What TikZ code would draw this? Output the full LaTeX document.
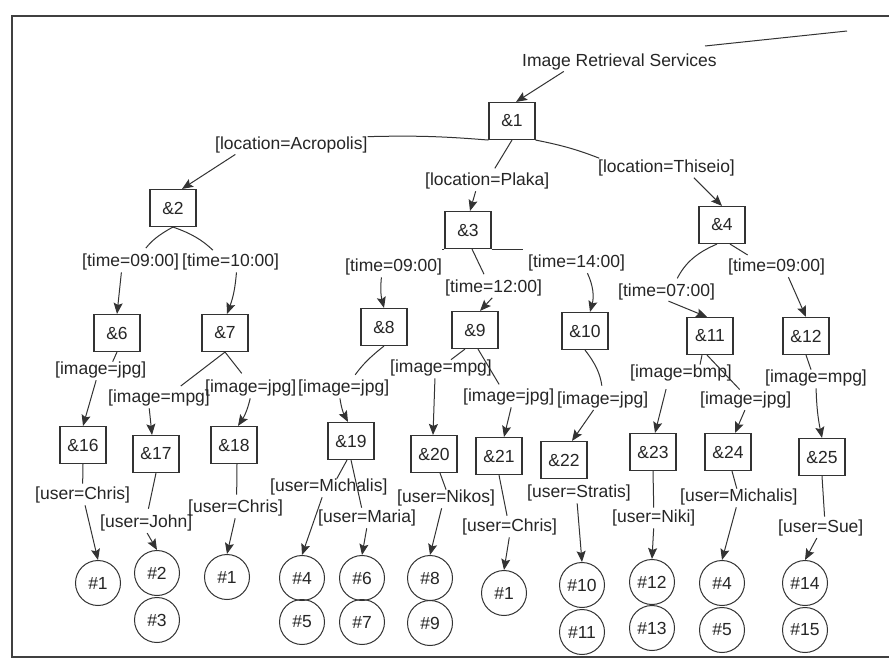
\documentclass[tikz,border=0pt]{standalone}
\usepackage{fontspec}
\setmainfont{Liberation Sans}
\usetikzlibrary{arrows.meta}
\begin{document}
\begin{tikzpicture}[x=1pt,y=-1pt,
  every node/.style={font=\fontsize{17.5}{21}\selectfont, text=black!85},
  box/.style={draw=black!80, line width=1.1pt, minimum width=46pt, minimum height=37pt, inner sep=0pt},
  leaf/.style={draw=black!80, line width=1pt, circle, minimum size=45pt, inner sep=0pt},
  lab/.style={inner sep=0pt, anchor=west},
  ln/.style={draw=black!80, line width=1pt},
  arr/.style={ln, shorten <=2pt, -{Stealth[length=11pt,width=9pt,inset=2pt]}},
]
\useasboundingbox (0,0) rectangle (889,659);
\fill[white] (0,0) rectangle (889,659);
\draw[line width=1.4pt, black!75] (889,16) -- (12,16) -- (12,657) -- (889,657);

% ---- top
\node[lab] (lIRS) at (522,62) {Image Retrieval Services};
\node[box] (n1) at (512,121) {\&1};
\node[lab] (lA) at (215,145) {[location=Acropolis]};
\node[lab] (lP) at (425,181) {[location=Plaka]};
\node[lab] (lT) at (598,168) {[location=Thiseio]};
\node[box] (n2) at (173,208) {\&2};
\node[box] (n3) at (468,230) {\&3};
\node[box] (n4) at (722,225) {\&4};

% ---- time labels
\node[lab] (tA1) at (82,262) {[time=09:00]};
\node[lab] (tA2) at (182,262) {[time=10:00]};
\node[lab] (tB1) at (345,267) {[time=09:00]};
\node[lab] (tB2) at (445,288) {[time=12:00]};
\node[lab] (tB3) at (528,263) {[time=14:00]};
\node[lab] (tC1) at (618,292) {[time=07:00]};
\node[lab] (tC2) at (728,267) {[time=09:00]};

% ---- second level boxes
\node[box] (n6) at (117,333) {\&6};
\node[box] (n7) at (225,333) {\&7};
\node[box] (n8) at (384,327) {\&8};
\node[box] (n9) at (475,330) {\&9};
\node[box] (n10) at (585,331) {\&10};
\node[box] (n11) at (710,336) {\&11};
\node[box] (n12) at (806,336) {\&12};

% ---- image labels
\node[lab] (i6) at (55,370) {[image=jpg]};
\node[lab] (i7a) at (108,398) {[image=mpg]};
\node[lab] (i7b) at (205,388) {[image=jpg]};
\node[lab] (i8) at (298,388) {[image=jpg]};
\node[lab] (i9a) at (390,368) {[image=mpg]};
\node[lab] (i9b) at (463,397) {[image=jpg]};
\node[lab] (i10) at (557,400) {[image=jpg]};
\node[lab] (i11a) at (630,373) {[image=bmp]};
\node[lab] (i11b) at (700,400) {[image=jpg]};
\node[lab] (i12) at (765,378) {[image=mpg]};

% ---- third level boxes
\node[box] (n16) at (83,445) {\&16};
\node[box] (n17) at (156,454) {\&17};
\node[box] (n18) at (234,445) {\&18};
\node[box] (n19) at (351,441) {\&19};
\node[box] (n20) at (434,454) {\&20};
\node[box] (n21) at (499,456) {\&21};
\node[box] (n22) at (564,460) {\&22};
\node[box] (n23) at (653,452) {\&23};
\node[box] (n24) at (728,452) {\&24};
\node[box] (n25) at (822,457) {\&25};

% ---- user labels
\node[lab] (u16) at (35,495) {[user=Chris]};
\node[lab] (u17) at (100,523) {[user=John]};
\node[lab] (u18) at (188,508) {[user=Chris]};
\node[lab] (u19a) at (270,487) {[user=Michalis]};
\node[lab] (u19b) at (318,518) {[user=Maria]};
\node[lab] (u20) at (397,498) {[user=Nikos]};
\node[lab] (u21) at (462,527) {[user=Chris]};
\node[lab] (u22) at (527,493) {[user=Stratis]};
\node[lab] (u23) at (612,518) {[user=Niki]};
\node[lab] (u24) at (680,497) {[user=Michalis]};
\node[lab] (u25) at (778,528) {[user=Sue]};

% ---- leaves
\node[leaf] (c16) at (98,583) {\#1};
\node[leaf] (c17a) at (157,573) {\#2};
\node[leaf] (c17b) at (157,620) {\#3};
\node[leaf] (c18) at (227,577) {\#1};
\node[leaf] (c19a) at (302,578) {\#4};
\node[leaf] (c19b) at (302,622) {\#5};
\node[leaf] (c19c) at (362,578) {\#6};
\node[leaf] (c19d) at (362,622) {\#7};
\node[leaf] (c20a) at (430,578) {\#8};
\node[leaf] (c20b) at (430,623) {\#9};
\node[leaf] (c21) at (504,593) {\#1};
\node[leaf] (c22a) at (582,585) {\#10};
\node[leaf] (c22b) at (582,632) {\#11};
\node[leaf] (c23a) at (652,582) {\#12};
\node[leaf] (c23b) at (652,628) {\#13};
\node[leaf] (c24a) at (722,583) {\#4};
\node[leaf] (c24b) at (722,630) {\#5};
\node[leaf] (c25a) at (805,583) {\#14};
\node[leaf] (c25b) at (805,630) {\#15};

% ---- connectors: top
\coordinate (in1) at (705,46);
\coordinate (in2) at (847,31);
\draw[ln] (in1) -- (in2);
\draw[arr] ([xshift=-54]lIRS.south) -- ([xshift=4]n1.north);
\draw[ln] (n1.south west) to[bend right=3] (lA.north east);
\draw[ln,shorten >=4pt] (n1.south east) to[bend left=5] ([xshift=5]lT.north west);
\draw[ln,shorten >=5pt] (n1.south) -- ([xshift=5]lP.north);
\draw[arr] ([xshift=22]lA.south west) -- ([xshift=9]n2.north);
\draw[arr] ([xshift=-11]lP.south) -- ([xshift=2]n3.north);
\draw[arr] ([xshift=26]lT.south) -- (n4.north);

% ---- &2
\draw[ln,shorten >=7pt] (n2.south) to[bend right=12] ([xshift=11]tA1.north);
\draw[ln,shorten >=5pt] (n2.south) to[bend left=12] ([xshift=-14]tA2.north);
\draw[arr] ([xshift=-9]tA1.south) -- (n6.north);
\draw[arr] ([xshift=6]tA2.south) to[bend left=8] ([xshift=2]n7.north);

% ---- &3
\draw[ln] (n3.south west) -- (tB1.north east |- n3.south);
\draw[ln] (n3.south east) -- ([xshift=-5]tB3.north west |- n3.south);
\draw[ln,shorten >=6pt] ([xshift=4]n3.south) -- ([xshift=-7]tB2.north);
\draw[arr] ([xshift=-12]tB1.south) to[bend right=10] (n8.north);
\draw[arr] (tB2.south) -- ([xshift=5]n9.north);
\draw[arr] ([xshift=10]tB3.south) to[bend left=20] ([xshift=5]n10.north);

% ---- &4
\draw[ln,shorten >=6pt] ([xshift=-5]n4.south) to[bend right=20] ([xshift=8]tC1.north);
\draw[ln,shorten >=7pt] ([xshift=8]n4.south) -- ([xshift=-23]tC2.north);
\draw[arr] (tC1.south) -- ([xshift=-3]n11.north);
\draw[arr] ([xshift=11]tC2.south) -- (n12.north);

% ---- image level
\draw[ln] (n6.south) -- ([xshift=12]i6.north);
\draw[arr] ([xshift=-4]i6.south) -- (n16.north);
\draw[ln,shorten >=6pt] (n7.south) -- ([xshift=17]i7a.north);
\draw[ln,shorten >=8pt] (n7.south) -- ([xshift=-4]i7b.north);
\draw[arr] ([xshift=-10]i7a.south) -- ([xshift=-4]n17.north);
\draw[arr] (i7b.south) to[bend left=10] ([xshift=4]n18.north);
\draw[ln,shorten >=6pt] (n8.south) to[bend right=8] ([xshift=8]i8.north);
\draw[arr] ([xshift=-4]i8.south) to[bend right=10] ([xshift=-3]n19.north);
\draw[ln] ([xshift=-10]n9.south) -- ([xshift=10]i9a.north);
\draw[ln,shorten >=5pt] ([xshift=3]n9.south) -- ([xshift=-7]i9b.north);
\draw[arr] ([xshift=-6]i9a.south) -- ([xshift=-1]n20.north);
\draw[arr] ([xshift=3]i9b.south) -- ([xshift=5]n21.north);
\draw[ln,shorten >=6pt] (n10.south) to[bend left=15] (i10.north);
\draw[arr] ([xshift=-8]i10.south) -- ([xshift=8]n22.north);
\draw[ln] ([xshift=-8]n11.south) -- ([xshift=19]i11a.north);
\draw[ln,shorten >=3pt] ([xshift=-3]n11.south) -- ([xshift=-4]i11b.north);
\draw[arr,shorten <=8pt] ([xshift=-13]i11a.south) -- ([xshift=2]n23.north);
\draw[arr] (i11b.south) -- ([xshift=7]n24.north);
\draw[ln] (n12.south) -- ([xshift=-5]i12.north);
\draw[arr] (i12.south) to[bend right=5] (n25.north);

% ---- user level
\draw[ln,shorten >=3pt] (n16.south) -- (u16.north);
\draw[arr] ([xshift=2]u16.south) -- (c16.north);
\draw[ln,shorten >=6pt] (n17.south) -- ([xshift=1]u17.north);
\draw[arr] (u17.south) -- (c17a.north);
\draw[ln,shorten >=5pt] ([xshift=3]n18.south) -- ([xshift=1]u18.north);
\draw[arr] (u18.south) -- (c18.north);
\draw[ln] ([xshift=-4]n19.south) -- ([xshift=8]u19a.north);
\draw[ln,shorten >=2pt] (n19.south) -- ([xshift=-5]u19b.north);
\draw[arr] ([xshift=-6]u19a.south) -- (c19a.north);
\draw[arr] (u19b.south) -- (c19c.north);
\draw[ln] ([xshift=6]n20.south) -- (u20.north);
\draw[arr] ([xshift=-4]u20.south) -- (c20a.north);
\draw[ln,shorten >=3pt] (n21.south) -- ([xshift=-2]u21.north);
\draw[arr] (u21.south) -- (c21.north);
\draw[arr] ([xshift=-2]u22.south) -- (c22a.north);
\draw[ln,shorten >=2pt] (n23.south) -- (u23.north);
\draw[arr] (u23.south) -- (c23a.north);
\draw[ln] ([xshift=4]n24.south) -- ([xshift=-2]u24.north);
\draw[arr] ([xshift=-2]u24.south) -- (c24a.north);
\draw[ln,shorten >=3pt] (n25.south) -- ([xshift=4]u25.north);
\draw[arr] ([xshift=-3]u25.south) -- (c25a.north);
\end{tikzpicture}
\end{document}
